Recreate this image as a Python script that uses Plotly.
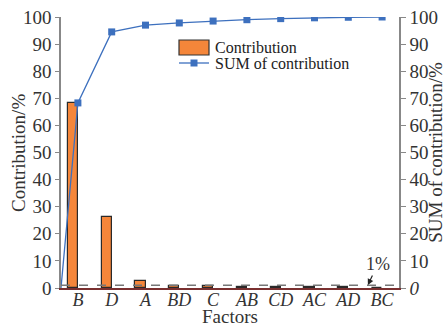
import plotly.graph_objects as go

factors = ["B", "D", "A", "BD", "C", "AB", "CD", "AC", "AD", "BC"]
contribution = [68.3, 26.2, 2.5, 0.8, 0.7, 0.5, 0.4, 0.3, 0.2, 0.1]
cumulative = [68.3, 94.5, 97.0, 97.8, 98.5, 99.0, 99.4, 99.7, 99.9, 100.0]
y_ticks = [0, 10, 20, 30, 40, 50, 60, 70, 80, 90, 100]

pos = [i + 0.5 for i in range(len(factors))]
font = "Liberation Serif"
orange = "#F5863A"
blue = "#3D70BE"
textc = "#333333"

fig = go.Figure()
fig.add_trace(go.Bar(
    x=pos, y=contribution, name="Contribution",
    width=0.3, offset=-0.3,
    marker=dict(color=orange, line=dict(color="#2a2a2a", width=1.2)),
))
fig.add_trace(go.Scatter(
    x=[0] + pos, y=[0] + cumulative, name="SUM of contribution",
    mode="lines+markers", yaxis="y2",
    line=dict(color=blue, width=1.3),
    marker=dict(symbol="square", size=7, color=blue,
                opacity=[0] + [1] * len(pos)),
))

# 1% reference line
fig.add_shape(type="line", xref="x domain", yref="y", x0=0, x1=1, y0=1, y1=1,
              line=dict(color="#777777", width=1.5, dash="dash"))
fig.add_annotation(x=9.08, y=1.1, xref="x", yref="y", text="1%", showarrow=True,
                   ax=10, ay=-21, arrowhead=2, arrowsize=1, arrowwidth=1.2,
                   arrowcolor="#222222", font=dict(family=font, size=18, color=textc))

# custom legend (paper coords: plot area x 61..399, y 17..288)
def px(x):
    return (x - 61) / 338

def py(y):
    return (288 - y) / 271

fig.add_shape(type="rect", xref="paper", yref="paper",
              x0=px(179), x1=px(209), y0=py(55), y1=py(40),
              fillcolor=orange, line=dict(color="#333333", width=1.2))
fig.add_annotation(xref="paper", yref="paper", x=px(213), y=py(47), text="Contribution",
                   showarrow=False, xanchor="left", yanchor="middle",
                   font=dict(family=font, size=16, color="#222222"))
fig.add_shape(type="line", xref="paper", yref="paper",
              x0=px(179), x1=px(209), y0=py(63), y1=py(63),
              line=dict(color=blue, width=1.3))
fig.add_shape(type="rect", xref="paper", yref="paper",
              x0=px(190.5), x1=px(197.5), y0=py(66.5), y1=py(59.5),
              fillcolor=blue, line=dict(color=blue, width=0))
fig.add_annotation(xref="paper", yref="paper", x=px(213), y=py(63), text="SUM of contribution",
                   showarrow=False, xanchor="left", yanchor="middle",
                   font=dict(family=font, size=16, color="#222222"))

# axis titles
fig.add_annotation(xref="paper", yref="paper", x=0.5, y=py(327.5), text="Factors",
                   showarrow=False, xanchor="center", yanchor="bottom", borderpad=0,
                   font=dict(family=font, size=19, color=textc))
fig.add_annotation(xref="paper", yref="paper", x=px(18), y=py(153), text="Contribution/%",
                   showarrow=False, xanchor="center", yanchor="middle", textangle=-90,
                   font=dict(family=font, size=19, color=textc))

tickfont = dict(family=font, size=19, color=textc)
xtickfont = dict(family=font, size=18, color=textc)
titlefont = dict(family=font, size=19, color=textc)
fig.update_layout(
    width=446, height=328, autosize=False,
    margin=dict(l=61, r=47, t=17, b=40, autoexpand=False),
    plot_bgcolor="white", paper_bgcolor="white",
    bargap=0,
    showlegend=False,
    xaxis=dict(range=[0, 10], tickmode="array", tickvals=pos, automargin=False,
               ticktext=[f"<i>{f}</i>" for f in factors],
               showline=True, linecolor="#7a3030", linewidth=1.5,
               ticks="", tickfont=xtickfont, showgrid=False, zeroline=False,
               ticklabelstandoff=-5),
    yaxis=dict(range=[0, 100], tickvals=y_ticks, showline=True, linecolor="#888888",
               automargin=False,
               linewidth=1.5, ticks="outside", ticklen=4, tickcolor="#888888",
               tickfont=tickfont, showgrid=False, zeroline=False),
    yaxis2=dict(range=[0, 100], overlaying="y", side="right", tickvals=y_ticks,
                automargin=False,
                ticktext=["<i>0</i>"] + [str(v) for v in y_ticks[1:]],
                showline=True, linecolor="#888888", linewidth=1.5,
                ticks="outside", ticklen=5, tickcolor="#888888",
                tickfont=tickfont, showgrid=False, zeroline=False,
                title=dict(text="SUM of contribution/%", font=titlefont, standoff=6)),
)

fig.write_html("out.html", config={"displayModeBar": False},
               post_script="document.body.style.margin='0';document.body.style.overflow='hidden';")
